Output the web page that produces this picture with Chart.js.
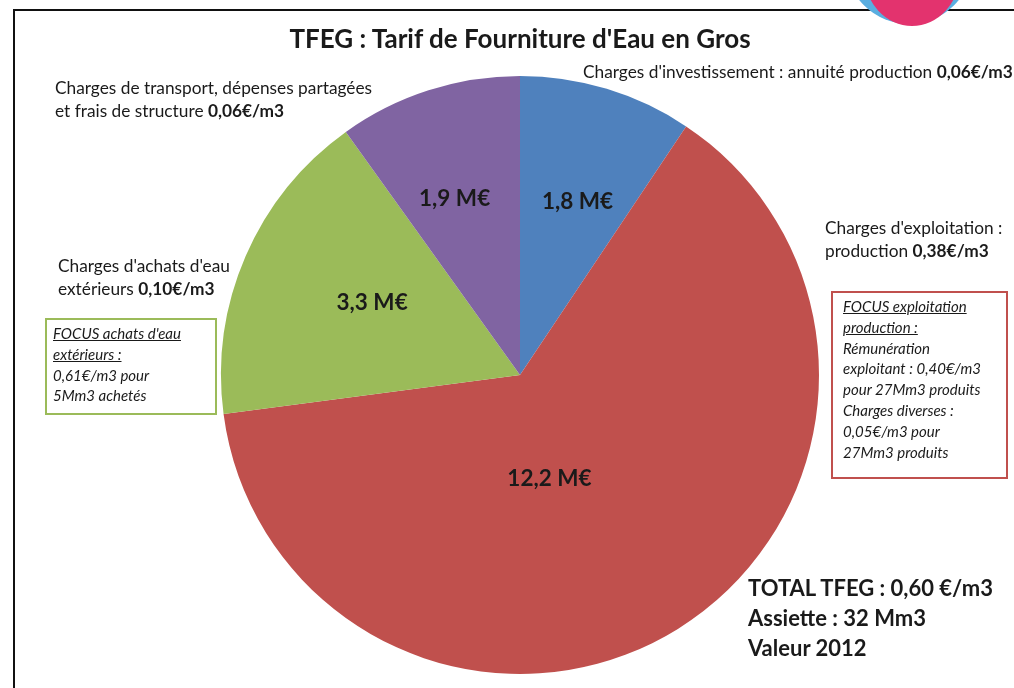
<!DOCTYPE html>
<html>
<head>
<meta charset="utf-8">
<script src="https://cdn.jsdelivr.net/npm/chart.js@4"></script>
<style>
  html, body { margin: 0; padding: 0; background: #fff; overflow: hidden; }
  body { width: 1014px; height: 688px; position: relative; font-family: Lato, "Open Sans", sans-serif; color: #1a1a1a; }
  #wrap { position: absolute; left: 0; top: 0; width: 1014px; height: 688px; }
  .frame { position: absolute; left: 13px; top: 9px; width: 1100px; height: 800px; border-left: 2px solid #111; border-top: 2px solid #111; }
  .logo-blue { position: absolute; left: 846px; top: -100px; width: 126px; height: 124px; border-radius: 50%; background: #5aaee0; }
  .logo-pink { position: absolute; left: 864px; top: -80px; width: 96px; height: 106px; border-radius: 50%; background: #e3336e; }
  .txt { position: absolute; white-space: nowrap; font-size: 17.3px; line-height: 23px; }
  .title { position: absolute; left: 0; width: 1040px; top: 22px; text-align: center; font-weight: bold; font-size: 26px; }
  .box { position: absolute; font-style: italic; font-size: 15px; line-height: 20.8px; padding: 3px 0 0 6px; box-sizing: border-box; white-space: nowrap; }
  .box u { text-decoration: underline; }
  .total { position: absolute; left: 748px; top: 573px; font-weight: bold; font-size: 22px; line-height: 30px; white-space: nowrap; }
</style>
</head>
<body>
<div class="frame"></div>
<div class="logo-blue"></div>
<div class="logo-pink"></div>
<div id="wrap"><canvas id="pieChart"></canvas></div>

<div class="title">TFEG : Tarif de Fourniture d'Eau en Gros</div>
<div class="txt" style="left:55px; top:76px;">Charges de transport, dépenses partagées<br>et frais de structure <b>0,06€/m3</b></div>
<div class="txt" style="left:583px; top:60px;">Charges d'investissement : annuité production <b>0,06€/m3</b></div>
<div class="txt" style="left:825px; top:216px;">Charges d'exploitation :<br>production <b>0,38€/m3</b></div>
<div class="txt" style="left:58px; top:254px;">Charges d'achats d'eau<br>extérieurs <b>0,10€/m3</b></div>

<div class="box" style="left:45px; top:318px; width:172px; height:97px; border:2px solid #9BBB59;">
  <u>FOCUS achats d'eau</u><br><u>extérieurs :</u><br>0,61€/m3 pour<br>5Mm3 achetés
</div>
<div class="box" style="left:831px; top:291px; width:177px; height:188px; border:2px solid #C0504D; padding-left:10px;">
  <u>FOCUS exploitation</u><br><u>production :</u><br>Rémunération<br>exploitant : 0,40€/m3<br>pour 27Mm3 produits<br>Charges diverses :<br>0,05€/m3 pour<br>27Mm3 produits
</div>

<div class="total">TOTAL TFEG : 0,60 €/m3<br>Assiette : 32 Mm3<br>Valeur 2012</div>

<script>
// ── Data — TFEG breakdown (M€), clockwise from 12 o'clock ──
const categories = ['Investissement', 'Exploitation production', "Achats d'eau extérieurs", 'Transport et structure'];
const amounts    = [1.8, 12.2, 3.3, 1.9];
const valueLabels = ['1,8 M€', '12,2 M€', '3,3 M€', '1,9 M€'];

const SLICE_COLORS = ['#4F81BD', '#C0504D', '#9BBB59', '#8064A2'];
// radial position of each label, as a share of the radius, plus a small angle nudge (deg)
const LABEL_POS = [[0.61, 1.5], [0.36, 16], [0.55, 2.5], [0.63, -2.5]];

const sliceLabels = {
  id: 'sliceLabels',
  afterDatasetsDraw(chart) {
    const { ctx } = chart;
    const meta = chart.getDatasetMeta(0);
    ctx.save();
    ctx.font = 'bold 22.5px Lato, sans-serif';
    ctx.fillStyle = '#1a1a1a';
    ctx.textAlign = 'center';
    ctx.textBaseline = 'middle';
    meta.data.forEach((arc, i) => {
      const p = arc.getProps(['x', 'y', 'startAngle', 'endAngle', 'outerRadius']);
      const mid = (p.startAngle + p.endAngle) / 2 + LABEL_POS[i][1] * Math.PI / 180;
      const r = p.outerRadius * LABEL_POS[i][0];
      ctx.fillText(valueLabels[i], p.x + Math.cos(mid) * r, p.y + Math.sin(mid) * r);
    });
    ctx.restore();
  },
};

new Chart(document.getElementById('pieChart'), {
  type: 'pie',
  data: {
    labels: categories,
    datasets: [{ data: amounts, backgroundColor: SLICE_COLORS, borderWidth: 0 }],
  },
  options: {
    responsive: true,
    maintainAspectRatio: false,
    animation: false,
    layout: { padding: { left: 221, right: 195, top: 76, bottom: 14 } },
    plugins: {
      legend: { display: false },
      tooltip: { enabled: false },
    },
  },
  plugins: [sliceLabels],
});
</script>
</body>
</html>
